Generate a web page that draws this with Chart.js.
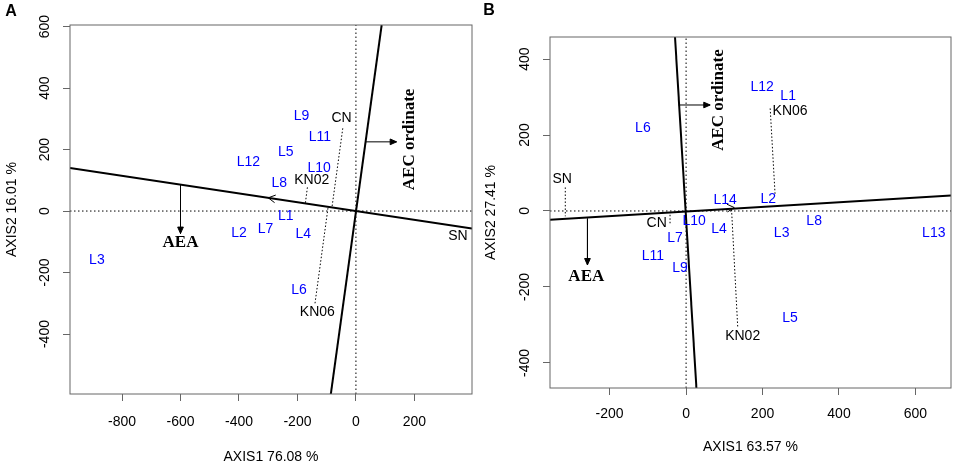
<!DOCTYPE html>
<html>
<head>
<meta charset="utf-8">
<script src="https://cdn.jsdelivr.net/npm/chart.js@4.4.1/dist/chart.umd.min.js"></script>
<style>
  body { margin: 0; background: #fff; }
  .panel { position: absolute; top: 0; height: 468px; }
</style>
</head>
<body>
<div class="panel" style="left:0;width:478px"><canvas id="chartA"></canvas></div>
<div class="panel" style="left:478px;width:479px"><canvas id="chartB"></canvas></div>
<script>
// ---- panel A ----
var genoA = ["L1", "L2", "L3", "L4", "L5", "L6", "L7", "L8", "L9", "L10", "L11", "L12"];
var genoAx = [-240, -400, -886, -180, -240, -195, -309, -262, -186, -126, -123, -368];
var genoAy = [-15, -73, -159, -75, 193, -258, -58, 92, 307, 140, 240, 160];
var envA = ["CN", "KN02", "KN06", "SN"];
var envAx = [-49, -151, -132, 349];
var envAy = [301, 101, -329, -81];
var rangeAx = [-978, 397];
var rangeAy = [-595, 605];
var ticksAx = [-800, -600, -400, -200, 0, 200];
var ticksAy = [-400, -200, 0, 200, 400, 600];
var aeaAx = [-978, 397], aeaAy = [140, -57];
var aecAx = [88, -86], aecAy = [605, -596];
var projA = [ // environment projections onto AEA axis
  [[-45, 269], [-82, 12]],
  [[-140, -300], [-95, 14]],
  [[-166, 77], [-173, 25]]
];
var dirAx = [0, -300], dirAy = [0, 43];
var downAx = [-600, -600], downAy = [86, -73];
var rightAx = [31, 139], rightAy = [225, 225];
var aeaLabelA = [-600, -102];
var aecLabelA = [182, 233];

// ---- panel B ----
var genoB = ["L1", "L2", "L3", "L4", "L5", "L6", "L7", "L8", "L9", "L10", "L11", "L12", "L13", "L14"];
var genoBx = [267, 215, 250, 86, 272, -113, -29, 335, -16, 21, -87, 199, 648, 102];
var genoBy = [303, 31, -59, -47, -281, 218, -72, -28, -151, -28, -118, 327, -59, 29];
var envB = ["CN", "KN02", "KN06", "SN"];
var envBx = [-77, 148, 272, -324];
var envBy = [-31, -329, 263, 83];
var rangeBx = [-356, 693];
var rangeBy = [-466, 458];
var ticksBx = [-200, 0, 200, 400, 600];
var ticksBy = [-400, -200, 0, 200, 400];
var aeaBx = [-356, 693], aeaBy = [-23, 41];
var aecBx = [-29, 27], aecBy = [458, -466];
var projB = [
  [[220, 270], [233, 40]],
  [[135, -304], [119, 3]],
  [[-316, 62], [-316, -14]],
  [[-42, -10], [-42, -34]]
];
var dirBx = [0, 126], dirBy = [0, 9];
var downBx = [-258, -258], downBy = [-20, -142];
var rightBx = [-20, 63], rightBy = [279, 279];
var aeaLabelB = [-261, -173];
var aecLabelB = [84, 292];

function pts(xs, ys) {
  return xs.map(function (x, i) { return { x: x, y: ys[i] }; });
}

function seg(xs, ys, opts) {
  var ds = { data: pts(xs, ys), showLine: true, pointRadius: 0, borderColor: "#000", borderWidth: 1, tension: 0 };
  for (var k in opts) ds[k] = opts[k];
  return ds;
}

var extras = {
  id: "extras",
  afterDatasetsDraw: function (chart) {
    var ctx = chart.ctx;
    chart.data.datasets.forEach(function (ds, i) {
      var meta = chart.getDatasetMeta(i);
      if (ds.arrow) {
        var p1 = meta.data[meta.data.length - 2], p2 = meta.data[meta.data.length - 1];
        var a = Math.atan2(p2.y - p1.y, p2.x - p1.x);
        var len = ds.arrow == "open" ? 8 : 7, w = ds.arrow == "open" ? 0.5 : 0.42;
        ctx.save();
        ctx.strokeStyle = "#000";
        ctx.fillStyle = "#000";
        ctx.lineWidth = 1;
        ctx.beginPath();
        ctx.moveTo(p2.x - len * Math.cos(a - w), p2.y - len * Math.sin(a - w));
        ctx.lineTo(p2.x, p2.y);
        ctx.lineTo(p2.x - len * Math.cos(a + w), p2.y - len * Math.sin(a + w));
        if (ds.arrow == "filled") { ctx.closePath(); ctx.fill(); }
        ctx.stroke();
        ctx.restore();
      }
      if (ds.names) {
        ctx.save();
        ctx.font = "14px 'Liberation Sans', Arial, sans-serif";
        ctx.fillStyle = ds.textColor;
        ctx.textAlign = "center";
        ctx.textBaseline = "middle";
        meta.data.forEach(function (el, j) { ctx.fillText(ds.names[j], el.x, el.y); });
        ctx.restore();
      }
    });
  },
  afterDraw: function (chart) {
    var ctx = chart.ctx, area = chart.chartArea, o = chart.options.plugins.extras;
    var sx = chart.scales.x, sy = chart.scales.y;
    ctx.save();
    ctx.strokeStyle = "#666";
    ctx.lineWidth = 1;
    ctx.strokeRect(area.left, area.top, area.right - area.left, area.bottom - area.top);
    // y tick labels, rotated as in R
    ctx.fillStyle = "#000";
    ctx.font = "14px 'Liberation Sans', Arial, sans-serif";
    ctx.textAlign = "center";
    ctx.textBaseline = "middle";
    sy.ticks.forEach(function (t) {
      ctx.save();
      ctx.translate(area.left - 25, sy.getPixelForValue(t.value));
      ctx.rotate(-Math.PI / 2);
      ctx.fillText(String(t.value), 0, 0);
      ctx.restore();
    });
    // annotations
    ctx.font = "bold 17px 'Liberation Serif', 'Times New Roman', serif";
    ctx.fillText("AEA", sx.getPixelForValue(o.aea[0]), sy.getPixelForValue(o.aea[1]));
    ctx.save();
    ctx.translate(sx.getPixelForValue(o.aec[0]), sy.getPixelForValue(o.aec[1]));
    ctx.rotate(-Math.PI / 2);
    ctx.fillText("AEC ordinate", 0, 0);
    ctx.restore();
    ctx.font = "bold 16px 'Liberation Sans', Arial, sans-serif";
    ctx.fillText(o.letter, o.letterPos[0], o.letterPos[1]);
    ctx.restore();
  }
};

function makeChart(id, p) {
  var datasets = [
    seg(p.rangeX, [0, 0], { borderDash: [1.5, 2.5] }),
    seg([0, 0], p.rangeY, { borderDash: [1.5, 2.5] })
  ];
  p.proj.forEach(function (s) {
    datasets.push(seg([s[0][0], s[1][0]], [s[0][1], s[1][1]], { borderDash: [1.5, 2] }));
  });
  datasets.push(seg(p.aeaX, p.aeaY, { borderWidth: 2 }));
  datasets.push(seg(p.aecX, p.aecY, { borderWidth: 2 }));
  datasets.push(seg(p.dirX, p.dirY, { borderWidth: 0, arrow: "open" }));
  datasets.push(seg(p.downX, p.downY, { arrow: "filled" }));
  datasets.push(seg(p.rightX, p.rightY, { arrow: "filled" }));
  datasets.push({ data: pts(p.genoX, p.genoY), names: p.geno, textColor: "#0000ff", pointRadius: 0 });
  datasets.push({ data: pts(p.envX, p.envY), names: p.env, textColor: "#000", pointRadius: 0 });

  return new Chart(document.getElementById(id), {
    type: "scatter",
    data: { datasets: datasets },
    plugins: [extras],
    options: {
      responsive: true,
      maintainAspectRatio: false,
      animation: false,
      layout: { padding: { top: p.padTop, right: 6, bottom: 0, left: 0 } },
      plugins: {
        legend: { display: false },
        tooltip: { enabled: false },
        extras: { aea: p.aeaLabel, aec: p.aecLabel, letter: p.letter, letterPos: p.letterPos }
      },
      scales: {
        x: {
          type: "linear",
          min: p.rangeX[0],
          max: p.rangeX[1],
          afterBuildTicks: function (s) { s.ticks = p.ticksX.map(function (v) { return { value: v }; }); },
          afterFit: function (s) { s.height = p.xHeight; },
          border: { display: false },
          grid: { drawOnChartArea: false, drawTicks: true, tickLength: 7, color: "#666" },
          ticks: { color: "#000", padding: p.xTickPad, maxRotation: 0, font: { family: "'Liberation Sans', Arial, sans-serif", size: 14 } },
          title: { display: true, text: p.xTitle, color: "#000", padding: { top: 0, bottom: p.xTitlePad }, font: { family: "'Liberation Sans', Arial, sans-serif", size: 14 } }
        },
        y: {
          type: "linear",
          min: p.rangeY[0],
          max: p.rangeY[1],
          afterBuildTicks: function (s) { s.ticks = p.ticksY.map(function (v) { return { value: v }; }); },
          afterFit: function (s) { s.width = p.yWidth; },
          border: { display: false },
          grid: { drawOnChartArea: false, drawTicks: true, tickLength: 7, color: "#666" },
          ticks: { display: false },
          title: { display: true, text: p.yTitle, color: "#000", padding: { top: p.yTitlePad, bottom: 0 }, font: { family: "'Liberation Sans', Arial, sans-serif", size: 14 } }
        }
      }
    }
  });
}

makeChart("chartA", {
  geno: genoA, genoX: genoAx, genoY: genoAy, env: envA, envX: envAx, envY: envAy,
  rangeX: rangeAx, rangeY: rangeAy, ticksX: ticksAx, ticksY: ticksAy,
  aeaX: aeaAx, aeaY: aeaAy, aecX: aecAx, aecY: aecAy, proj: projA,
  dirX: dirAx, dirY: dirAy, downX: downAx, downY: downAy, rightX: rightAx, rightY: rightAy,
  aeaLabel: aeaLabelA, aecLabel: aecLabelA,
  xTitle: "AXIS1 76.08 %", yTitle: "AXIS2 16.01 %",
  letter: "A", letterPos: [11, 12],
  padTop: 25, xHeight: 74, yWidth: 70, xTickPad: 13, xTitlePad: 2, yTitlePad: 4
});

makeChart("chartB", {
  geno: genoB, genoX: genoBx, genoY: genoBy, env: envB, envX: envBx, envY: envBy,
  rangeX: rangeBx, rangeY: rangeBy, ticksX: ticksBx, ticksY: ticksBy,
  aeaX: aeaBx, aeaY: aeaBy, aecX: aecBx, aecY: aecBy, proj: projB,
  dirX: dirBx, dirY: dirBy, downX: downBx, downY: downBy, rightX: rightBx, rightY: rightBy,
  aeaLabel: aeaLabelB, aecLabel: aecLabelB,
  xTitle: "AXIS1 63.57 %", yTitle: "AXIS2 27.41 %",
  letter: "B", letterPos: [11, 11],
  padTop: 37, xHeight: 80, yWidth: 72, xTickPad: 11, xTitlePad: 12, yTitlePad: 5
});
</script>
</body>
</html>
